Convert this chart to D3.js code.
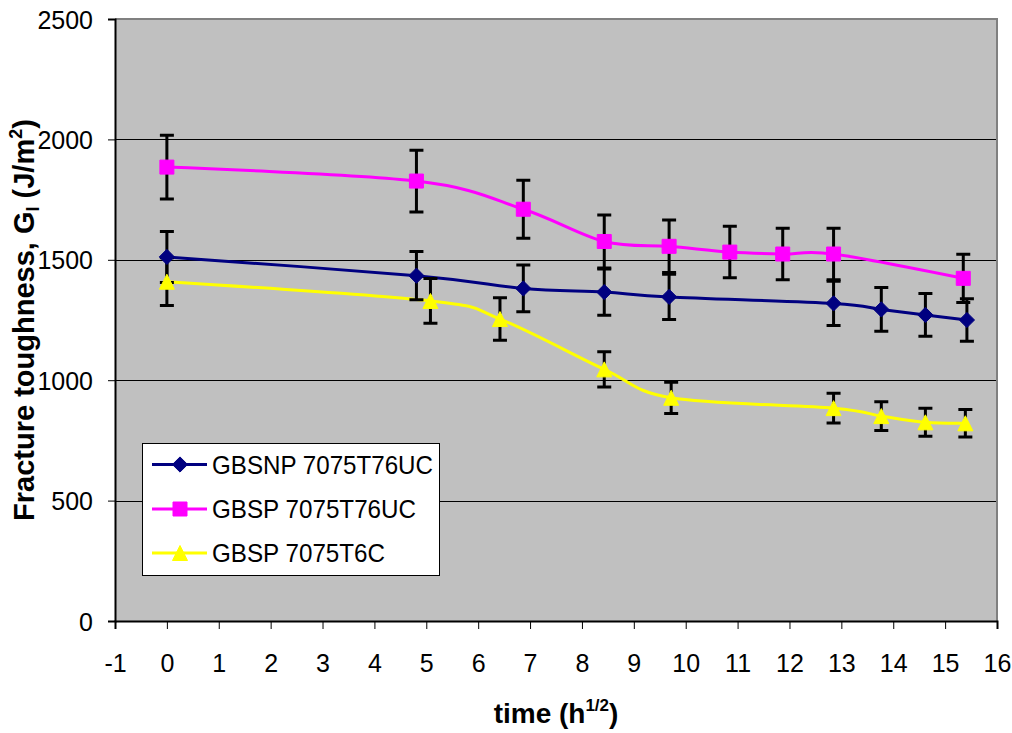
<!DOCTYPE html>
<html>
<head>
<meta charset="utf-8">
<script src="https://cdn.jsdelivr.net/npm/d3@7"></script>
<style>
  html, body { margin: 0; padding: 0; background: #fff; }
  svg { display: block; }
  text { font-family: Arial, "Liberation Sans", sans-serif; fill: #000; }
</style>
</head>
<body>
<svg id="chart" width="1012" height="733"></svg>
<script>
// Fracture toughness vs square root of exposure time, three adhesive systems
const seriesNames = ["GBSNP 7075T76UC", "GBSP 7075T76UC", "GBSP 7075T6C"];

const gbsnpX   = [0, 4.81, 6.87, 8.43, 9.68, 12.85, 13.77, 14.62, 15.42];
const gbsnpY   = [1512, 1434, 1381, 1366, 1346, 1319, 1294, 1271, 1250];
const gbsnpErr = [106, 100, 97, 96, 94, 92, 91, 89, 88];

const gbspUcX   = [0, 4.81, 6.87, 8.43, 9.68, 10.85, 11.87, 12.85, 15.35];
const gbspUcY   = [1885, 1827, 1710, 1576, 1556, 1532, 1524, 1524, 1423];
const gbspUcErr = [132, 128, 120, 110, 109, 107, 107, 107, 100];

const gbspCX   = [0, 5.08, 6.42, 8.43, 9.72, 12.85, 13.77, 14.62, 15.39];
const gbspCY   = [1409, 1329, 1254, 1045, 927, 884, 851, 825, 821];
const gbspCErr = [99, 93, 88, 73, 65, 62, 60, 58, 57];

const xTicks = d3.range(-1, 17, 1);
const yTicks = [0, 500, 1000, 1500, 2000, 2500];

const colors = ["#000080", "#FF00FF", "#FFFF00"];

// marker shapes: diamond, square, triangle (all about 15px across)
const diamond = { draw(ctx) { ctx.moveTo(0, -7.6); ctx.lineTo(7.6, 0); ctx.lineTo(0, 7.6); ctx.lineTo(-7.6, 0); ctx.closePath(); } };
const square  = { draw(ctx) { ctx.rect(-7, -7, 14, 14); } };
const triangle = { draw(ctx) { ctx.moveTo(0, -7.5); ctx.lineTo(7.5, 7.5); ctx.lineTo(-7.5, 7.5); ctx.closePath(); } };
const symbols = [diamond, square, triangle];

const series = [
  { name: seriesNames[0], xs: gbsnpX,  ys: gbsnpY,  es: gbsnpErr },
  { name: seriesNames[1], xs: gbspUcX, ys: gbspUcY, es: gbspUcErr },
  { name: seriesNames[2], xs: gbspCX,  ys: gbspCY,  es: gbspCErr }
].map((s, i) => ({
  name: s.name, color: colors[i], symbol: symbols[i],
  points: s.xs.map((x, j) => ({ x, y: s.ys[j], e: s.es[j] }))
}));

const svg = d3.select("#chart");
const plot = { left: 115, right: 997, top: 19, bottom: 621 };

const x = d3.scaleLinear().domain([-1, 16]).range([plot.left, plot.right]);
const y = d3.scaleLinear().domain([0, 2500]).range([plot.bottom, plot.top]);

// plot area background
svg.append("rect")
  .attr("x", plot.left).attr("y", plot.top)
  .attr("width", plot.right - plot.left).attr("height", plot.bottom - plot.top)
  .attr("fill", "#C0C0C0");

// horizontal gridlines
svg.append("g").selectAll("line")
  .data(yTicks.filter(v => v > 0 && v < 2500))
  .join("line")
  .attr("x1", plot.left).attr("x2", plot.right)
  .attr("y1", d => Math.round(y(d)) + 0.5).attr("y2", d => Math.round(y(d)) + 0.5)
  .attr("stroke", "#000").attr("stroke-width", 1);

// top and right frame
svg.append("path")
  .attr("d", `M${plot.left},${plot.top}H${plot.right}V${plot.bottom}`)
  .attr("fill", "none").attr("stroke", "#808080").attr("stroke-width", 2);

// axes
const fmt = d => String(d);
const xAxis = d3.axisBottom(x).tickValues(xTicks).tickSize(8).tickFormat(fmt);
const gx = svg.append("g").attr("transform", `translate(0,${plot.bottom})`).call(xAxis);
gx.select(".domain").attr("stroke", "#000").attr("stroke-width", 2);
gx.selectAll(".tick line").attr("stroke", "#000").attr("stroke-width", 1);
gx.selectAll(".tick text").attr("font-size", 25).attr("font-family", "Arial, 'Liberation Sans', sans-serif")
  .attr("dy", 0).attr("y", 51);

const yAxis = d3.axisLeft(y).tickValues(yTicks).tickSize(7).tickFormat(fmt);
const gy = svg.append("g").attr("transform", `translate(${plot.left},0)`).call(yAxis);
gy.select(".domain").attr("stroke", "#000").attr("stroke-width", 2);
gy.selectAll(".tick line").attr("stroke", "#000").attr("stroke-width", 1);
gy.selectAll(".tick text").attr("font-size", 25).attr("font-family", "Arial, 'Liberation Sans', sans-serif")
  .attr("x", -22).attr("dy", "0.36em");

// smoothed series lines
const line = d3.line()
  .x(d => x(d.x)).y(d => y(d.y))
  .curve(d3.curveCardinal.tension(0));

svg.append("g").selectAll("path")
  .data(series)
  .join("path")
  .attr("d", s => line(s.points))
  .attr("fill", "none")
  .attr("stroke", s => s.color)
  .attr("stroke-width", 3);

// error bars
const capHalf = 7;
const eb = svg.append("g").attr("stroke", "#000").attr("stroke-width", 3).attr("fill", "none");
series.forEach(s => {
  eb.selectAll(null).data(s.points).join("path")
    .attr("d", d => {
      const cx = x(d.x), y1 = y(d.y + d.e), y0 = y(d.y - d.e);
      return `M${cx},${y1}V${y0}M${cx - capHalf},${y1}H${cx + capHalf}M${cx - capHalf},${y0}H${cx + capHalf}`;
    });
});

// markers
series.forEach(s => {
  svg.append("g").selectAll("path").data(s.points).join("path")
    .attr("transform", d => `translate(${x(d.x)},${y(d.y)})`)
    .attr("d", d3.symbol().type(s.symbol))
    .attr("fill", s.color)
    .attr("stroke", s.color)
    .attr("stroke-width", 1);
});

// legend
const legend = svg.append("g").attr("transform", "translate(142,443)");
legend.append("rect")
  .attr("x", 0.5).attr("y", 0.5).attr("width", 297).attr("height", 132)
  .attr("fill", "#fff").attr("stroke", "#000").attr("stroke-width", 1);
const rowY = [21.5, 66, 110];
const labelWidths = [221, 204, 173];
series.forEach((s, i) => {
  const g = legend.append("g").attr("transform", `translate(0,${rowY[i]})`);
  g.append("line").attr("x1", 10).attr("x2", 65).attr("y1", 0).attr("y2", 0)
    .attr("stroke", s.color).attr("stroke-width", 3);
  g.append("path").attr("transform", "translate(38,0)")
    .attr("d", d3.symbol().type(s.symbol))
    .attr("fill", s.color).attr("stroke", s.color).attr("stroke-width", 1);
  g.append("text").attr("x", 70).attr("y", 0).attr("dy", "0.36em")
    .attr("font-size", 26)
    .attr("textLength", labelWidths[i]).attr("lengthAdjust", "spacingAndGlyphs")
    .text(s.name);
});

// x axis title
const xt = svg.append("text")
  .attr("x", 556).attr("y", 723)
  .attr("text-anchor", "middle")
  .attr("font-size", 28).attr("font-weight", "bold");
xt.append("tspan").text("time (h");
xt.append("tspan").attr("font-size", 17).attr("dy", -12).text("1/2");
xt.append("tspan").attr("dy", 12).text(")");

// y axis title
const yt = svg.append("text")
  .attr("transform", "translate(34,320) rotate(-90)")
  .attr("text-anchor", "middle")
  .attr("font-size", 29).attr("font-weight", "bold");
yt.append("tspan").text("Fracture toughness, G");
yt.append("tspan").attr("font-size", 18).attr("dy", 5).text("I");
yt.append("tspan").attr("dy", -5).text(" (J/m");
yt.append("tspan").attr("font-size", 18).attr("dy", -12).text("2");
yt.append("tspan").attr("dy", 12).text(")");
</script>
</body>
</html>
